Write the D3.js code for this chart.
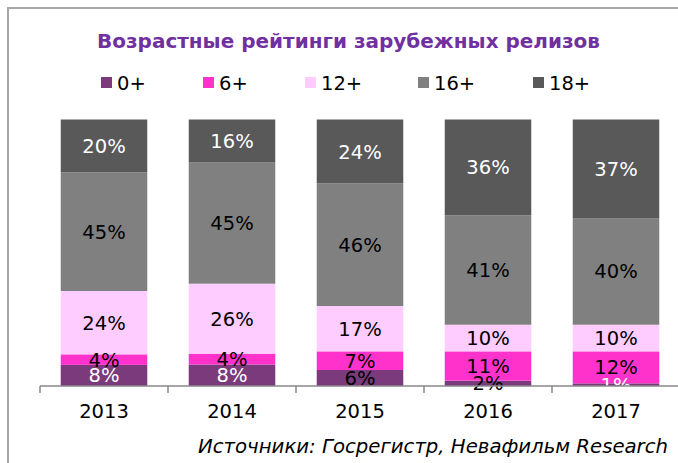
<!DOCTYPE html>
<html><head><meta charset="utf-8">
<script src="https://cdn.jsdelivr.net/npm/d3@7"></script>
<style>body{margin:0;background:#fff}svg{display:block}</style>
</head><body>
<script>
const years = ["2013","2014","2015","2016","2017"];
const seriesNames = ["0+","6+","12+","16+","18+"];
const v0 = [8, 8, 6, 2, 1];
const v6 = [4, 4, 7, 11, 12];
const v12 = [24, 26, 17, 10, 10];
const v16 = [45, 45, 46, 41, 40];
const v18 = [20, 16, 24, 36, 37];
const title = "Возрастные рейтинги зарубежных релизов";
const source = "Источники: Госрегистр, Невафильм Research";

const colors = ["#7B3A7B","#FF33CC","#FFCCFF","#808080","#595959"];
const labelColors = [["#fff","#fff","#000","#000","#fff"], "#000", "#000", "#000", "#fff"];

const W = 678, H = 463;
const svg = d3.select("body").append("svg").attr("width", W).attr("height", H);
const font = "'DejaVu Sans', Verdana, sans-serif";

// frame
svg.append("rect").attr("x",8).attr("y",8).attr("width",W+20).attr("height",H+20)
  .attr("fill","none").attr("stroke","#A6A6A6").attr("stroke-width",2);

const rows = years.map((y,i)=>({year:y,"0+":v0[i],"6+":v6[i],"12+":v12[i],"16+":v16[i],"18+":v18[i]}));
const stack = d3.stack().keys(seriesNames).offset(d3.stackOffsetExpand);
const layers = stack(rows);

const x = d3.scaleBand().domain(years).range([40,680]).paddingInner(0.324).paddingOuter(0.162);
const y = d3.scaleLinear().domain([0,1]).range([386,119.5]);

const g = svg.append("g");
layers.forEach((layer,si)=>{
  g.selectAll(null).data(layer).enter().append("rect")
    .attr("x", d=>x(d.data.year)).attr("width", x.bandwidth())
    .attr("y", d=>y(d[1])).attr("height", d=>y(d[0])-y(d[1]))
    .attr("fill", colors[si]);
});
layers.forEach((layer,si)=>{
  g.selectAll(null).data(layer).enter().append("text")
    .attr("x", d=>x(d.data.year)+x.bandwidth()/2)
    .attr("y", d=>(y(d[0])+y(d[1]))/2)
    .attr("dy","0.36em")
    .attr("text-anchor","middle")
    .attr("font-family",font).attr("font-size",19.5)
    .attr("fill",(d,i)=>Array.isArray(labelColors[si])?labelColors[si][i]:labelColors[si])
    .text(d=>d.data[seriesNames[si]]+"%");
});

// axis
const axis = d3.axisBottom(x).tickSize(0).tickPadding(18);
const ag = svg.append("g").attr("transform","translate(0,386)").call(axis);
ag.select(".domain").attr("stroke","#888").attr("stroke-width",1.5).attr("d","M40,0H680");
ag.selectAll("text").attr("font-family",font).attr("font-size",19.5).attr("fill","#000");
const bounds = years.map(yr=>x(yr)-x.step()*x.paddingInner()/2).concat([680]);
ag.selectAll(".sep").data(bounds).enter().append("line")
  .attr("x1",d=>d).attr("x2",d=>d).attr("y1",0).attr("y2",7)
  .attr("stroke","#888").attr("stroke-width",1.5);

// title
svg.append("text").attr("x",97).attr("y",47.5)
  .attr("textLength",503).attr("lengthAdjust","spacingAndGlyphs")
  .attr("font-family",font).attr("font-weight","bold").attr("font-size",20)
  .attr("fill","#7030A0").text(title);

// legend
const legX = [101,203,305,418,533];
seriesNames.forEach((s,i)=>{
  svg.append("rect").attr("x",legX[i]).attr("y",77).attr("width",11).attr("height",11).attr("fill",colors[i]);
  svg.append("text").attr("x",legX[i]+16).attr("y",90)
    .attr("font-family",font).attr("font-size",19.5).attr("fill","#000").text(s);
});

// source
svg.append("text").attr("x",668).attr("y",453).attr("text-anchor","end")
  .attr("font-family",font).attr("font-style","italic").attr("font-size",19.7)
  .attr("fill","#000").text(source);
</script>
</body></html>
